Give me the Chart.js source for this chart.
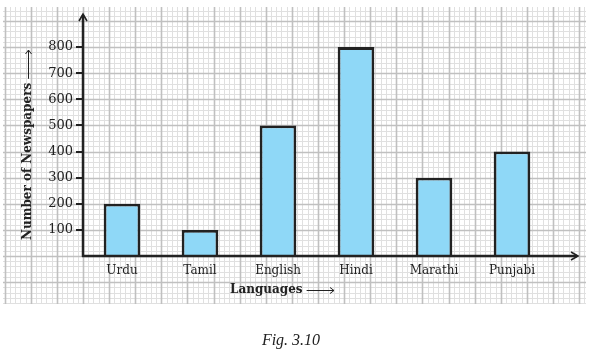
<!DOCTYPE html>
<html>
<head>
<meta charset="utf-8">
<script src="https://cdn.jsdelivr.net/npm/chart.js@4.4.1/dist/chart.umd.min.js"></script>
<style>
  html, body { margin: 0; padding: 0; background: #fff; }
  #wrap { width: 594px; height: 357px; position: relative; }
</style>
</head>
<body>
<div id="wrap"><canvas id="chart"></canvas></div>
<script>
const LANGUAGES = ['Urdu', 'Tamil', 'English', 'Hindi', 'Marathi', 'Punjabi'];
const NEWSPAPERS = [200, 100, 500, 800, 300, 400];
const Y_TICK_MAX = 800;

const SERIF = "'DejaVu Serif', 'Liberation Serif', serif";
const INK = '#222';

// graph paper + axes arrows + captions
const paperPlugin = {
  id: 'paper',
  beforeDraw(chart) {
    const { ctx, chartArea } = chart;
    const y = chart.scales.y;
    const unit = y.getPixelForValue(0) - y.getPixelForValue(100);
    const ox = chartArea.left;
    const oy = y.getPixelForValue(0);
    const L = 3, T = 7, R = 586, B = 304;
    const step = unit / 5;
    ctx.save();
    const lines = (major) => {
      ctx.beginPath();
      for (let k = Math.ceil((L - ox) / step); ox + k * step <= R; k++) {
        if ((k % 5 === 0) !== major) continue;
        const px = Math.round(ox + k * step) + 0.5;
        ctx.moveTo(px, T);
        ctx.lineTo(px, B);
      }
      for (let k = Math.ceil((oy - B) / step) * -1; oy + k * step >= T; k--) {
        if ((k % 5 === 0) !== major) continue;
        const py = Math.round(oy + k * step) + 0.5;
        ctx.moveTo(L, py);
        ctx.lineTo(R, py);
      }
      ctx.stroke();
    };
    ctx.strokeStyle = '#e0e0e0';
    ctx.lineWidth = 1;
    lines(false);
    ctx.strokeStyle = '#c0c0c0';
    ctx.lineWidth = 1.6;
    lines(true);
    ctx.restore();
  },
  afterDraw(chart) {
    const { ctx, chartArea } = chart;
    const y = chart.scales.y;
    const ox = chartArea.left;
    const oy = y.getPixelForValue(0);
    ctx.save();
    ctx.strokeStyle = INK;
    ctx.lineWidth = 2.5;
    ctx.lineCap = 'butt';
    // y axis with arrow
    ctx.beginPath();
    ctx.moveTo(ox, oy + 1);
    ctx.lineTo(ox, 15);
    ctx.stroke();
    ctx.lineWidth = 1.6;
    ctx.beginPath();
    ctx.moveTo(ox - 4, 21);
    ctx.lineTo(ox, 14);
    ctx.lineTo(ox + 4, 21);
    ctx.stroke();
    // x axis with arrow
    ctx.lineWidth = 2.5;
    ctx.beginPath();
    ctx.moveTo(ox - 1, oy);
    ctx.lineTo(577, oy);
    ctx.stroke();
    ctx.lineWidth = 1.6;
    ctx.beginPath();
    ctx.moveTo(571, oy - 4);
    ctx.lineTo(578, oy);
    ctx.lineTo(571, oy + 4);
    ctx.stroke();

    // axis captions
    ctx.fillStyle = INK;
    ctx.font = "bold 12px " + SERIF;
    ctx.textBaseline = 'middle';
    ctx.textAlign = 'left';
    ctx.fillText('Languages', 230, 290);
    const lw = ctx.measureText('Languages').width;
    ctx.lineWidth = 1;
    ctx.beginPath();
    ctx.moveTo(230 + lw + 4, 290.5);
    ctx.lineTo(334, 290.5);
    ctx.moveTo(330, 287.5);
    ctx.lineTo(334, 290.5);
    ctx.lineTo(330, 293.5);
    ctx.stroke();

    ctx.save();
    ctx.translate(28, 240);
    ctx.rotate(-Math.PI / 2);
    ctx.fillText('Number of Newspapers', 0, 0);
    const nw = ctx.measureText('Number of Newspapers').width;
    ctx.beginPath();
    ctx.moveTo(nw + 4, 0.5);
    ctx.lineTo(190, 0.5);
    ctx.moveTo(186, -2.5);
    ctx.lineTo(190, 0.5);
    ctx.lineTo(186, 3.5);
    ctx.stroke();
    ctx.restore();

    ctx.font = "italic 16px 'Liberation Serif', serif";
    ctx.textAlign = 'center';
    ctx.fillText('Fig. 3.10', 291, 341);
    ctx.restore();
  },
};

new Chart(document.getElementById('chart'), {
  type: 'bar',
  data: {
    labels: LANGUAGES,
    datasets: [
      {
        data: NEWSPAPERS,
        backgroundColor: '#8fd8f7',
        borderColor: INK,
        borderWidth: 2.8,
        borderSkipped: 'bottom',
        categoryPercentage: 1,
        barPercentage: 0.47,
      },
    ],
  },
  options: {
    responsive: true,
    maintainAspectRatio: false,
    animation: false,
    layout: { padding: { left: 0, top: 21, right: 43, bottom: 71 } },
    plugins: { legend: { display: false }, tooltip: { enabled: false } },
    scales: {
      x: {
        type: 'category',
        offset: true,
        grid: { display: false },
        border: { display: false },
        ticks: { font: { family: SERIF, size: 12 }, color: INK, padding: 0 },
        afterFit: (s) => { s.height = 30; },
      },
      y: {
        min: 0,
        max: 900,
        border: { display: false },
        grid: {
          drawOnChartArea: false,
          tickLength: 7,
          lineWidth: 2,
          color: (c) => (c.tick && c.tick.value > 0 && c.tick.value <= Y_TICK_MAX ? INK : 'rgba(0,0,0,0)'),
        },
        ticks: {
          stepSize: 100,
          padding: 3,
          font: { family: SERIF, size: 13 },
          color: INK,
          callback: (v) => (v > 0 && v <= Y_TICK_MAX ? v : ''),
        },
        afterFit: (s) => { s.width = 83; },
      },
    },
  },
  plugins: [paperPlugin],
});
</script>
</body>
</html>
